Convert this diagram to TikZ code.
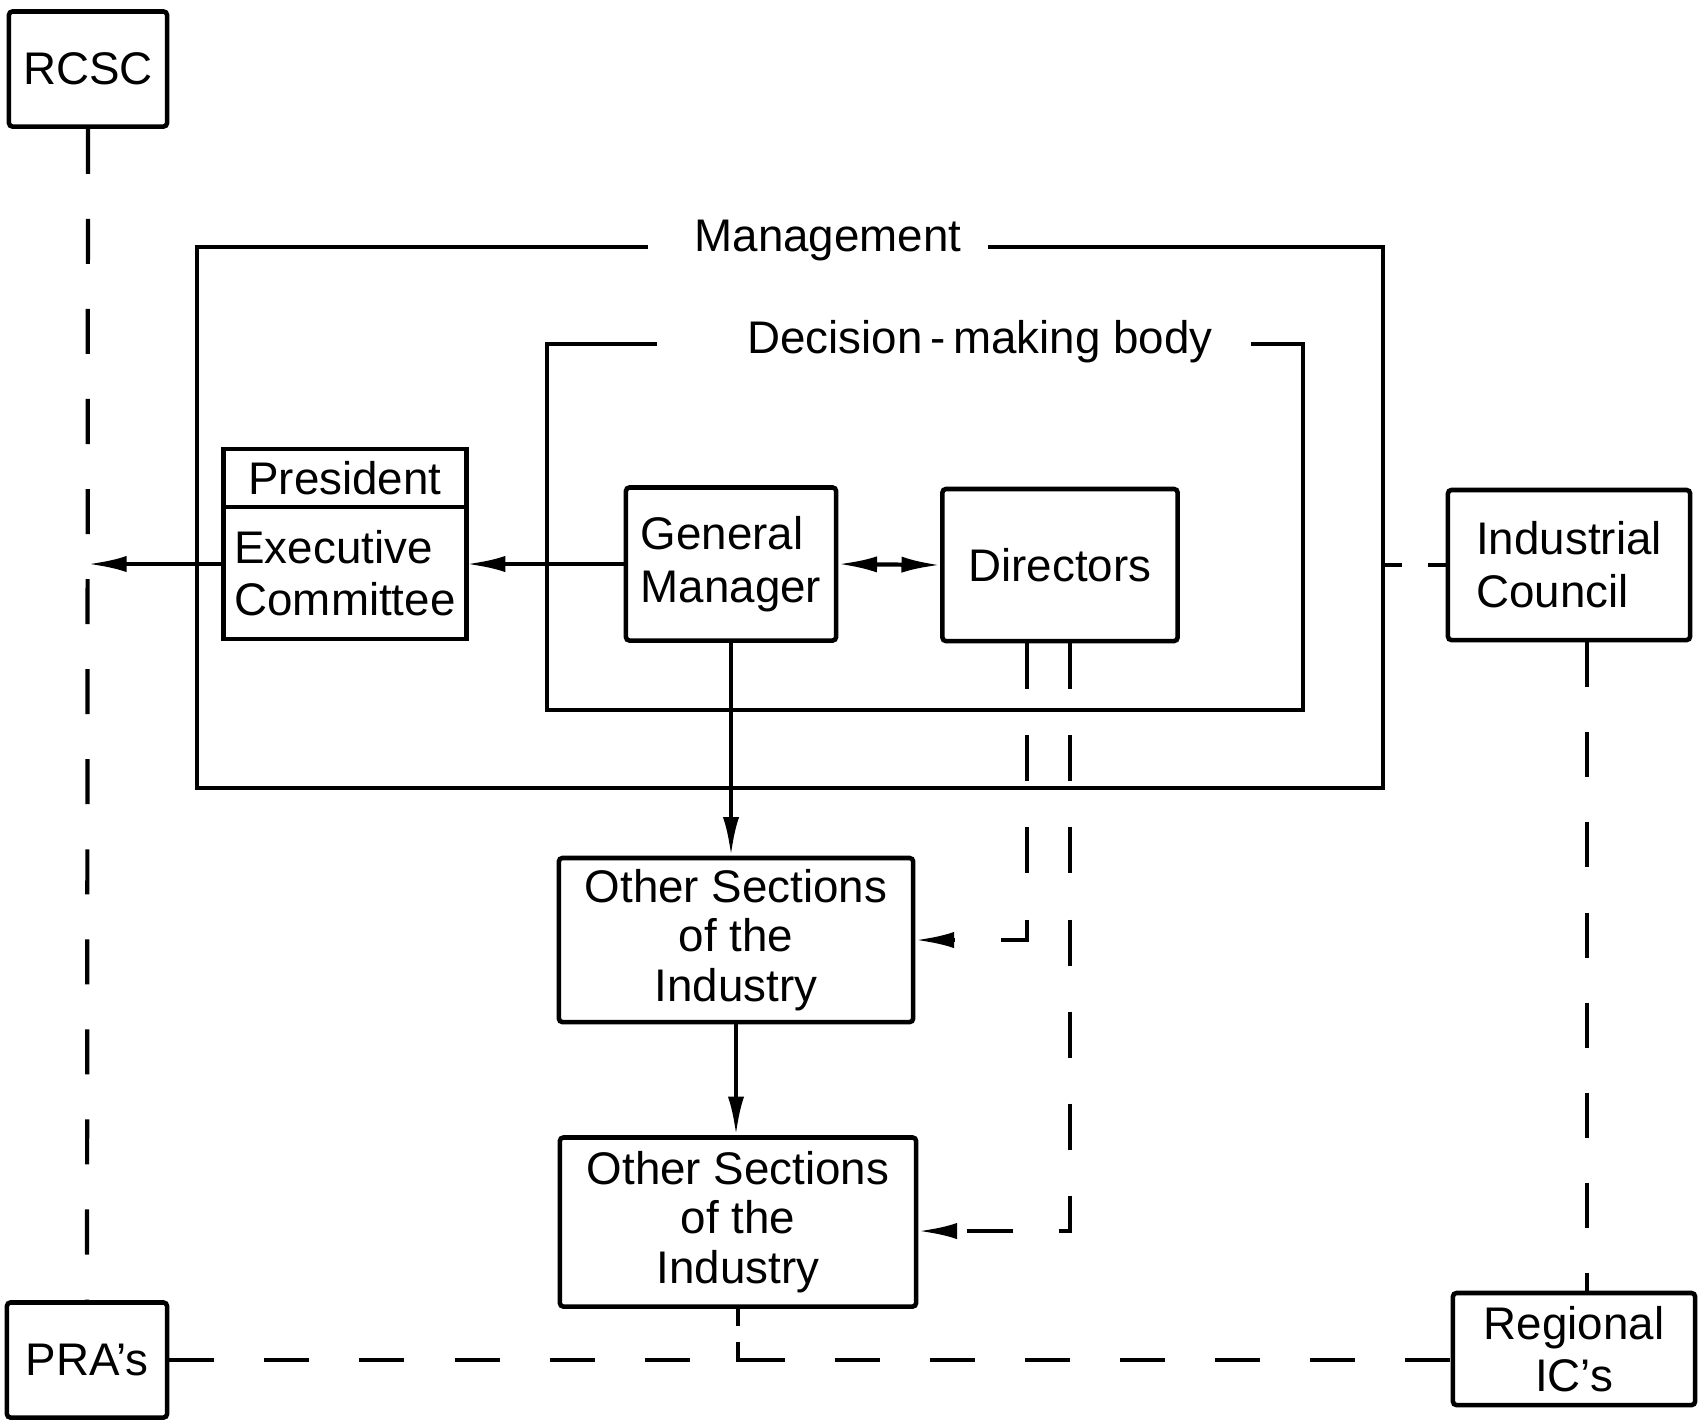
\documentclass[tikz,border=0pt]{standalone}
\usepackage{fontspec}
\setmainfont{Liberation Sans}
\usetikzlibrary{arrows.meta}

\tikzset{
  box/.style={draw,line width=1.3pt,rounded corners=1pt,inner sep=2pt,
    align=center,font=\fontsize{13}{15}\selectfont},
  lbl/.style={inner sep=0pt,font=\fontsize{13}{15}\selectfont},
  tip/.tip={Latex[length=11pt,width=4.6pt]},
  arr/.style={-tip},
  dline/.style={dash pattern=on 0.45cm off 0.45cm},
}

\begin{document}
\begin{tikzpicture}[x=0.01cm,y=-0.01cm,line width=1.2pt]
    \useasboundingbox (0,0) rectangle (1698,1423);

    % outer boxes
    \node[box,minimum width=1.58cm,minimum height=1.15cm] (rcsc) at (88,69) {RCSC};
    \node[box,minimum width=1.60cm,minimum height=1.15cm] (pra) at (87,1360) {PRA's};
    \node[box,minimum width=2.42cm,minimum height=1.50cm,align=left] (ic) at (1569,565)
      {Industrial\\Council};
    \node[box,minimum width=2.42cm,minimum height=1.12cm] (reg) at (1574,1349)
      {Regional\\IC's};

    % management
    \node[box,sharp corners,outer sep=0pt,minimum width=2.43cm,minimum height=0.58cm]
      (pres) at (345,478) {President};
    \node[box,sharp corners,outer sep=0pt,anchor=north,minimum width=2.43cm,
      minimum height=1.32cm,align=left] (exec) at (pres.south) {Executive\\Committee};
    \node[box,minimum width=2.10cm,minimum height=1.53cm,align=left] (gm) at (731,564)
      {General\\Manager};
    \node[box,minimum width=2.35cm,minimum height=1.52cm] (dir) at (1060,565) {Directors};

    % sections
    \node[box,minimum width=3.54cm,minimum height=1.64cm,font=\fontsize{13}{14}\selectfont]
      (os1) at (736,940) {Other Sections\\of the\\Industry};
    \node[box,minimum width=3.56cm,minimum height=1.69cm,font=\fontsize{13}{14}\selectfont]
      (os2) at (738,1222) {Other Sections\\of the\\Industry};

    % frames
    \coordinate (mgNW) at (197,247);
    \coordinate (mgSE) at (1383,788);
    \node[lbl] (mglbl) at (828,240) {Management};
    \draw (648,247) -- (mgNW) -- (mgNW |- mgSE) -- (mgSE) -- (mgSE |- mgNW) -- (988,247);

    \coordinate (dmNW) at (547,344);
    \coordinate (dmSE) at (1303,710);
    \node[lbl] (dmlbl) at (980,342) {Decision\,-\,making body};
    \draw (657,344) -- (dmNW) -- (dmNW |- dmSE) -- (dmSE) -- (dmSE |- dmNW) -- (1251,344);

    % solid connectors
    \draw[arr] (gm.west) -- (gm.west -| exec.east);
    \draw[arr] (gm.west -| exec.west) -- (gm.west -| rcsc.south);
    \draw[tip-tip] (gm.east) -- (dir.west);
    \draw[arr] (gm.south) -- (gm.south |- os1.north);
    \draw[arr] (os1.south) -- (os1.south |- os2.north);

    % dashed connectors
    \draw[dline] (rcsc.south) -- (pra.north);
    \draw[dline,dash pattern=on 0.45cm off 0.5cm] (pra.east) -- (pra.east -| reg.west);
    \draw[dash pattern=on 0.17cm off 0.16cm on 0.45cm off 10cm]
      (os2.south) |- ([xshift=0.26cm]os2.south |- pra.east);
    \draw[dline] ([xshift=0.18cm]ic.south) -- ([xshift=0.18cm]ic.south |- reg.north);
    \draw[dash pattern=on 0.19cm off 0.26cm] (ic.west -| mgSE) -- (ic.west);
    \draw[arr,dash pattern=on 0.46cm off 0.46cm] ([xshift=-0.33cm]dir.south) |- (os1.east);
    \draw[arr,dash pattern=on 0.46cm off 0.46cm] ([xshift=0.10cm]dir.south)
      |- ([yshift=-0.09cm]os2.east);
\end{tikzpicture}
\end{document}
